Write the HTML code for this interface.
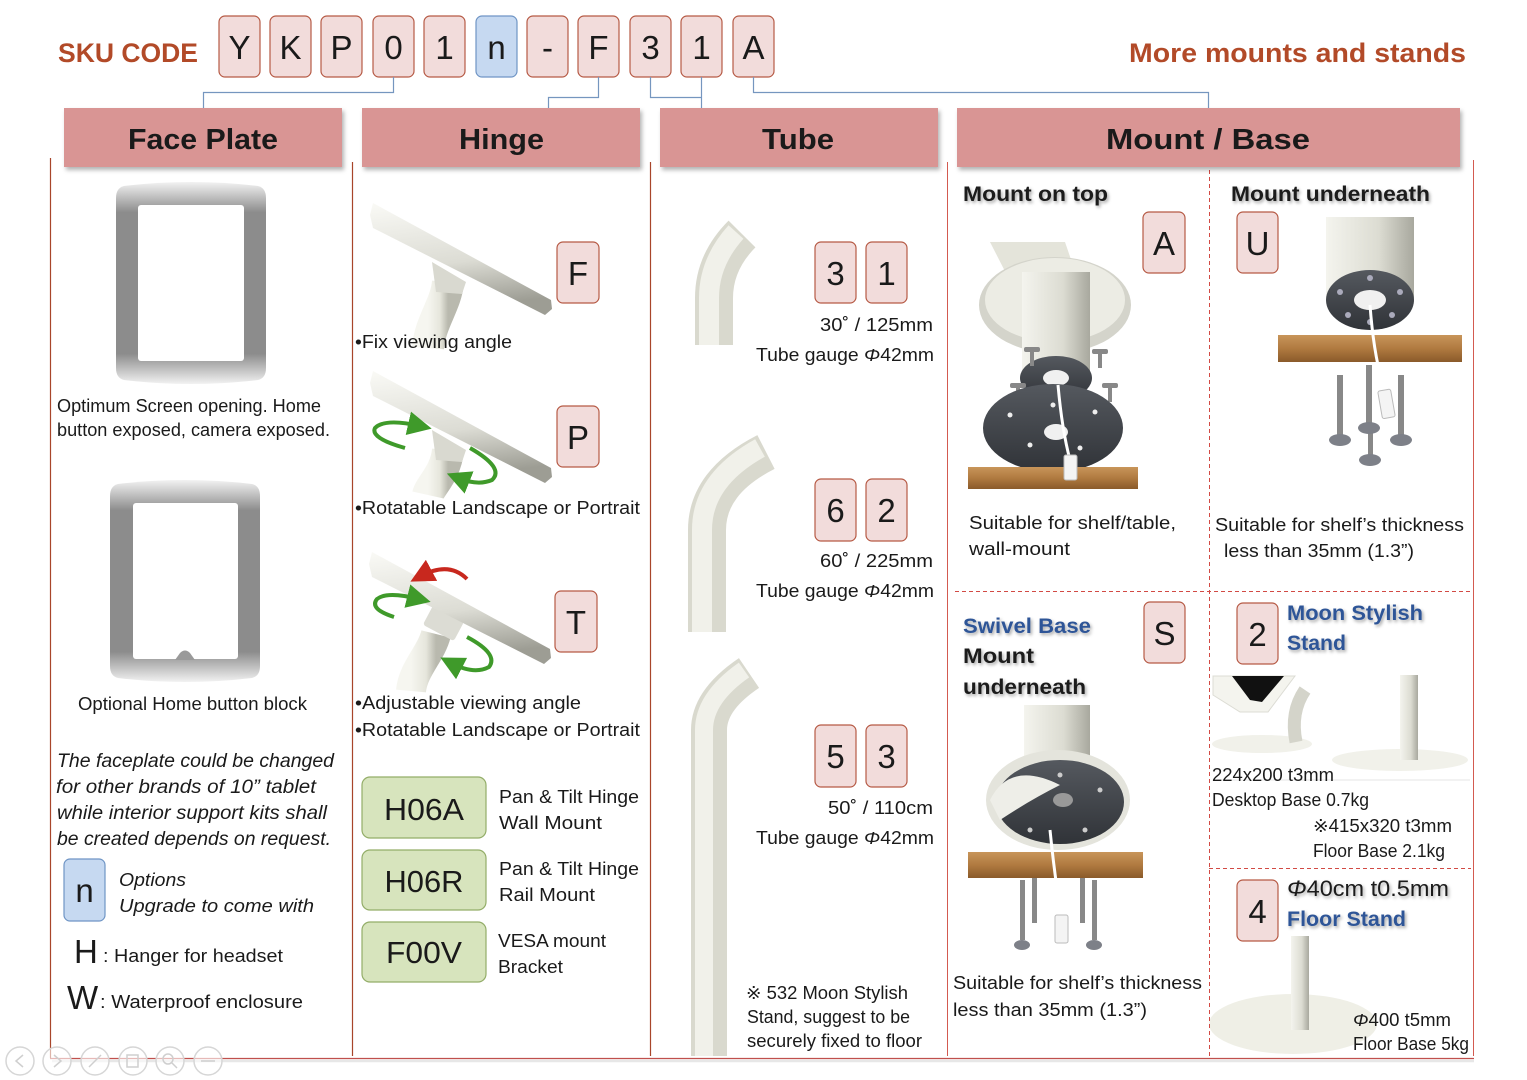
<!DOCTYPE html>
<html><head><meta charset="utf-8"><style>
html,body{margin:0;padding:0;background:#fff;}
svg{display:block;}
text{font-family:"Liberation Sans",sans-serif;fill:#1a1a1a;}
.b{font-weight:bold;}
.i{font-style:italic;}
</style></head><body>
<svg width="1527" height="1080" viewBox="0 0 1527 1080" xmlns="http://www.w3.org/2000/svg">
<defs>
<filter id="sh" x="-5%" y="-10%" width="112%" height="140%"><feDropShadow dx="2" dy="3" stdDeviation="2" flood-color="#000" flood-opacity="0.3"/></filter>
<filter id="ts" x="-5%" y="-20%" width="115%" height="160%"><feDropShadow dx="1.5" dy="2" stdDeviation="1.5" flood-color="#000" flood-opacity="0.35"/></filter>
<linearGradient id="fp" x1="0" y1="0" x2="0" y2="1"><stop offset="0" stop-color="#f2f2f2"/><stop offset="0.15" stop-color="#8c8c8c"/><stop offset="0.85" stop-color="#8c8c8c"/><stop offset="1" stop-color="#f2f2f2"/></linearGradient>
<linearGradient id="plate" x1="0" y1="0" x2="0.2" y2="1"><stop offset="0" stop-color="#fafaf6"/><stop offset="0.6" stop-color="#dcdcd4"/><stop offset="1" stop-color="#9d9d94"/></linearGradient>
<linearGradient id="tub" x1="0" y1="0" x2="1" y2="0"><stop offset="0" stop-color="#f6f6f0"/><stop offset="0.6" stop-color="#e6e6dc"/><stop offset="1" stop-color="#b9b9ae"/></linearGradient>
<linearGradient id="wood" x1="0" y1="0" x2="0" y2="1"><stop offset="0" stop-color="#c8955a"/><stop offset="0.5" stop-color="#b07a40"/><stop offset="1" stop-color="#8a5a2a"/></linearGradient>
<linearGradient id="pole" x1="0" y1="0" x2="1" y2="0"><stop offset="0" stop-color="#f4f4ee"/><stop offset="0.6" stop-color="#dcdcd2"/><stop offset="1" stop-color="#a8a89e"/></linearGradient>
<linearGradient id="dk" x1="0" y1="0" x2="0" y2="1"><stop offset="0" stop-color="#55595f"/><stop offset="1" stop-color="#303338"/></linearGradient>
<marker id="ag" markerWidth="6" markerHeight="6" refX="3" refY="3" orient="auto"><path d="M0,0 L6,3 L0,6 z" fill="#3f9a2a"/></marker>
<marker id="ar" markerWidth="6" markerHeight="6" refX="3" refY="3" orient="auto"><path d="M0,0 L6,3 L0,6 z" fill="#c8281e"/></marker>
</defs>

<!-- ===== Mount column images (drawn first, under text) ===== -->
<!-- Mount on top image -->
<polygon points="990,242 1065,242 1078,280 1012,285" fill="#e4e4da"/>
<ellipse cx="1055" cy="305" rx="76" ry="48" fill="#d4d4cb"/>
<ellipse cx="1055" cy="300" rx="70" ry="42" fill="#ecece4"/>
<rect x="1022" y="272" width="68" height="110" fill="url(#pole)"/>
<ellipse cx="1056" cy="378" rx="36" ry="22" fill="url(#dk)"/>
<ellipse cx="1056" cy="378" rx="13" ry="8" fill="#f0f0f0"/>
<g fill="#888"><rect x="1030" y="350" width="4" height="16"/><rect x="1024" y="347" width="16" height="5" rx="2"/><rect x="1098" y="352" width="4" height="16"/><rect x="1092" y="349" width="16" height="5" rx="2"/><rect x="1016" y="386" width="4" height="16"/><rect x="1010" y="383" width="16" height="5" rx="2"/><rect x="1108" y="386" width="4" height="16"/><rect x="1102" y="383" width="16" height="5" rx="2"/></g>
<ellipse cx="1053" cy="428" rx="70" ry="44" fill="url(#dk)"/>
<ellipse cx="1056" cy="432" rx="12" ry="8" fill="#f0f0f0"/>
<g fill="#eee"><circle cx="1010" cy="415" r="2.5"/><circle cx="1095" cy="412" r="2.5"/><circle cx="1030" cy="445" r="2.5"/><circle cx="1080" cy="448" r="2.5"/><circle cx="1053" cy="405" r="2.5"/></g>
<rect x="968" y="467" width="170" height="22" fill="url(#wood)"/>
<path d="M1058 385 Q1062 430 1070 460" stroke="#fff" stroke-width="3" fill="none"/>
<rect x="1064" y="455" width="13" height="25" rx="2" fill="#f4f4f4" stroke="#bbb"/>

<!-- Mount underneath image -->
<rect x="1326" y="217" width="88" height="85" fill="url(#pole)"/>
<ellipse cx="1370" cy="300" rx="44" ry="30" fill="url(#dk)"/>
<ellipse cx="1370" cy="300" rx="16" ry="10" fill="#f0f0f0"/>
<g fill="#aab"><circle cx="1340" cy="292" r="3"/><circle cx="1400" cy="292" r="3"/><circle cx="1348" cy="315" r="3"/><circle cx="1392" cy="315" r="3"/><circle cx="1370" cy="278" r="3"/><circle cx="1370" cy="322" r="3"/></g>
<rect x="1278" y="335" width="184" height="27" fill="url(#wood)"/>
<g fill="#888"><rect x="1337" y="375" width="6" height="62"/><rect x="1366" y="365" width="6" height="60"/><rect x="1398" y="375" width="6" height="62"/><rect x="1368" y="430" width="5" height="25"/></g>
<g fill="#7d8088"><ellipse cx="1340" cy="440" rx="11" ry="6"/><ellipse cx="1369" cy="428" rx="11" ry="6"/><ellipse cx="1401" cy="440" rx="11" ry="6"/><ellipse cx="1370" cy="460" rx="11" ry="6"/></g>
<path d="M1370 305 Q1374 360 1386 395" stroke="#fff" stroke-width="3" fill="none"/>
<rect x="1380" y="390" width="13" height="28" rx="2" fill="#f4f4f4" stroke="#bbb" transform="rotate(-10 1386 404)"/>

<!-- Swivel image -->
<rect x="1024" y="705" width="66" height="85" fill="url(#pole)"/>
<ellipse cx="1058" cy="800" rx="72" ry="50" fill="#e4e4dc"/>
<ellipse cx="1060" cy="802" rx="64" ry="42" fill="url(#dk)"/>
<path d="M990 800 Q1010 760 1060 785 Q1030 800 1000 820 Z" fill="#eeeee8"/>
<ellipse cx="1063" cy="800" rx="10" ry="7" fill="#999"/>
<g fill="#ccc"><circle cx="1030" cy="830" r="2.5"/><circle cx="1100" cy="790" r="2.5"/><circle cx="1085" cy="830" r="2.5"/><circle cx="1060" cy="775" r="2.5"/></g>
<rect x="968" y="852" width="175" height="26" fill="url(#wood)"/>
<g fill="#888"><rect x="1020" y="880" width="5" height="60"/><rect x="1032" y="878" width="5" height="45"/><rect x="1080" y="878" width="5" height="45"/><rect x="1092" y="880" width="5" height="60"/></g>
<g fill="#7d8088"><ellipse cx="1022" cy="945" rx="8" ry="5"/><ellipse cx="1094" cy="945" rx="8" ry="5"/></g>
<path d="M1050 830 Q1055 880 1062 920" stroke="#fff" stroke-width="3" fill="none"/>
<rect x="1055" y="915" width="13" height="28" rx="2" fill="#f4f4f4" stroke="#bbb"/>

<!-- Moon stylish images -->
<polygon points="1213,676 1295,676 1268,712 1240,712 1213,695" fill="#f4f4ee" stroke="#dcdcd4"/>
<polygon points="1232,676 1284,676 1262,702 1250,700" fill="#111"/>
<ellipse cx="1262" cy="744" rx="50" ry="9" fill="#f1f1ea"/>
<path d="M1305 690 Q1290 712 1296 742" stroke="#d4d4ca" stroke-width="13" fill="none"/>
<ellipse cx="1400" cy="760" rx="68" ry="11" fill="#f1f1ea"/>
<rect x="1400" y="675" width="18" height="85" fill="url(#pole)"/>
<path d="M1213 780 H1470" stroke="#e6e6e6" stroke-width="1"/>

<!-- Floor stand -->
<ellipse cx="1293" cy="1024" rx="84" ry="30" fill="#efefe6"/>
<rect x="1291" y="936" width="18" height="94" fill="url(#pole)"/>

<!-- Title texts -->
<text x="58" y="62" font-size="27" class="b" style="fill:#b24a28" textLength="140" lengthAdjust="spacingAndGlyphs">SKU CODE</text>
<text x="1129" y="62" font-size="27" class="b" style="fill:#b24a28" textLength="337" lengthAdjust="spacingAndGlyphs">More mounts and stands</text>

<!-- SKU boxes -->
<g stroke="#b65a45" stroke-width="1.2" fill="#f2dcdb">
<rect x="219" y="16" width="41" height="61" rx="6"/>
<rect x="270" y="16" width="41" height="61" rx="6"/>
<rect x="321" y="16" width="41" height="61" rx="6"/>
<rect x="373" y="16" width="41" height="61" rx="6"/>
<rect x="424" y="16" width="41" height="61" rx="6"/>
<rect x="476" y="16" width="41" height="61" rx="6" fill="#c6d9f1" stroke="#6f95c5"/>
<rect x="527" y="16" width="41" height="61" rx="6"/>
<rect x="578" y="16" width="41" height="61" rx="6"/>
<rect x="630" y="16" width="41" height="61" rx="6"/>
<rect x="681" y="16" width="41" height="61" rx="6"/>
<rect x="733" y="16" width="41" height="61" rx="6"/>
</g>
<g font-size="33" text-anchor="middle">
<text x="239.5" y="59">Y</text><text x="290.5" y="59">K</text><text x="341.5" y="59">P</text><text x="393.5" y="59">0</text><text x="444.5" y="59">1</text><text x="496.5" y="59">n</text><text x="547.5" y="59">-</text><text x="598.5" y="59">F</text><text x="650.5" y="59">3</text><text x="701.5" y="59">1</text><text x="753.5" y="59">A</text>
</g>

<!-- connectors -->
<g stroke="#7596bf" stroke-width="1.2" fill="none">
<path d="M393.5 77 V92.5 H203.5 V108"/>
<path d="M598.5 77 V97.5 H548.5 V108"/>
<path d="M650.5 77 V97.5 H701.5"/>
<path d="M701.5 77 V108"/>
<path d="M753.5 77 V92.5 H1208.5 V108"/>
</g>

<!-- column lines -->
<g stroke="#a8452a" stroke-width="1.2" fill="none">
<path d="M50.5 158 V1058"/>
<path d="M352.5 162 V1056"/>
<path d="M650.5 162 V1056"/>
</g>
<g stroke="#d35a50" stroke-width="1" fill="none">
<path d="M947.5 162 V1056"/>
<path d="M1473.5 160 V1056"/>
</g>
<path d="M50 1058.5 H1474" stroke="#c0504d" stroke-width="1.2"/>
<path d="M52 1061 H1474" stroke="#d8d8d8" stroke-width="2.5" opacity="0.6"/>
<g stroke="#d24a44" stroke-width="1" stroke-dasharray="4,3" fill="none">
<path d="M1209.5 170 V1056"/>
<path d="M955 591.5 H1471"/>
<path d="M1209 868.5 H1471"/>
</g>

<!-- headers -->
<g fill="#d99594" filter="url(#sh)">
<rect x="64" y="108" width="278" height="59"/>
<rect x="362" y="108" width="278" height="59"/>
<rect x="660" y="108" width="278" height="59"/>
<rect x="957" y="108" width="503" height="59"/>
</g>
<g font-size="29" class="b">
<text x="128" y="149" textLength="150" lengthAdjust="spacingAndGlyphs">Face Plate</text>
<text x="459" y="149" textLength="85" lengthAdjust="spacingAndGlyphs">Hinge</text>
<text x="762" y="149" textLength="72" lengthAdjust="spacingAndGlyphs">Tube</text>
<text x="1106" y="149" textLength="204" lengthAdjust="spacingAndGlyphs">Mount / Base</text>
</g>

<!-- Face plate drawings -->
<path d="M124 186 Q191 178 258 186 Q266 188 266 198 V368 Q266 378 258 380 Q191 388 124 380 Q116 378 116 368 V198 Q116 188 124 186 Z" fill="url(#fp)"/>
<rect x="138" y="205" width="106" height="156" rx="3" fill="#fff"/>
<path d="M118 484 Q185 476 252 484 Q260 486 260 496 V666 Q260 676 252 678 Q185 686 118 678 Q110 676 110 666 V496 Q110 486 118 484 Z" fill="url(#fp)"/>
<rect x="133" y="503" width="105" height="156" rx="3" fill="#fff"/>
<path d="M175 660 L180 653 Q185 648 190 653 L195 660 Z" fill="#9a9a9a"/>

<g font-size="18">
<text x="57" y="412" textLength="264" lengthAdjust="spacingAndGlyphs">Optimum Screen opening. Home</text>
<text x="57" y="436" textLength="273" lengthAdjust="spacingAndGlyphs">button exposed, camera exposed.</text>
<text x="78" y="710" textLength="229" lengthAdjust="spacingAndGlyphs">Optional Home button block</text>
</g>
<g font-size="19" class="i">
<text x="57" y="767" textLength="277" lengthAdjust="spacingAndGlyphs">The faceplate could be changed</text>
<text x="56" y="793" textLength="260" lengthAdjust="spacingAndGlyphs">for other brands of 10” tablet</text>
<text x="57" y="819" textLength="270" lengthAdjust="spacingAndGlyphs">while interior support kits shall</text>
<text x="57" y="845" textLength="274" lengthAdjust="spacingAndGlyphs">be created depends on request.</text>
</g>
<rect x="64" y="859" width="41" height="62" rx="6" fill="#c6d9f1" stroke="#6f95c5" stroke-width="1.2"/>
<text x="84.5" y="902" font-size="33" text-anchor="middle">n</text>
<g font-size="18" class="i">
<text x="119" y="886" textLength="67" lengthAdjust="spacingAndGlyphs">Options</text>
<text x="119" y="912" textLength="195" lengthAdjust="spacingAndGlyphs">Upgrade to come with</text>
</g>
<text x="74" y="963" font-size="33">H</text>
<text x="103" y="962" font-size="18" textLength="180" lengthAdjust="spacingAndGlyphs">: Hanger for headset</text>
<text x="67" y="1009" font-size="33">W</text>
<text x="100" y="1008" font-size="18" textLength="203" lengthAdjust="spacingAndGlyphs">: Waterproof enclosure</text>

<!-- nav icons -->
<g stroke="#d6d6d6" stroke-width="1.5" fill="#fff" fill-opacity="0.6">
<circle cx="20" cy="1061" r="14"/><circle cx="57" cy="1061" r="14"/><circle cx="95" cy="1061" r="14"/><circle cx="133" cy="1061" r="14"/><circle cx="170" cy="1061" r="14"/><circle cx="208" cy="1061" r="14"/>
</g>
<g stroke="#cfcfcf" stroke-width="1.5" fill="none">
<path d="M23 1055 L16 1061 L23 1067"/><path d="M54 1055 L61 1061 L54 1067"/><path d="M89 1067 L101 1055"/><rect x="127" y="1055" width="11" height="12"/><circle cx="168" cy="1059" r="5"/><path d="M172 1063 L177 1068"/><path d="M201 1061 H215"/>
</g>

<!-- Hinge drawings -->
<g>
<path d="M448 282 C446 305 430 322 428 348" stroke="url(#tub)" stroke-width="32" fill="none"/>
<polygon points="432,262 466,282 462,294 436,292" fill="#d9d9d0"/>
<polygon points="373,203 551,300 552,309 545,315 373,228 370,215" fill="url(#plate)"/>
</g>
<g transform="translate(0,168)">
<path d="M448 282 C446 305 430 318 428 327" stroke="url(#tub)" stroke-width="32" fill="none"/>
<polygon points="432,262 466,282 462,294 436,292" fill="#d9d9d0"/>
<polygon points="373,203 551,300 552,309 545,315 373,228 370,215" fill="url(#plate)"/>
<path d="M405 280 Q370 270 375 260 Q385 250 420 258" stroke="#3f9a2a" stroke-width="4" fill="none" marker-end="url(#ag)"/>
<path d="M470 280 Q505 300 492 312 Q478 318 458 310" stroke="#3f9a2a" stroke-width="4" fill="none" marker-end="url(#ag)"/>
</g>
<g transform="translate(-1,349)">
<path d="M437 285 C432 305 414 320 412 342" stroke="url(#tub)" stroke-width="30" fill="none"/>
<rect x="427" y="263" width="35" height="22" rx="3" fill="#dcdcd4" transform="rotate(28 444 274)"/>
<polygon points="373,203 551,300 552,309 545,315 373,228 370,215" fill="url(#plate)"/>
<path d="M468 230 Q450 212 422 227" stroke="#c8281e" stroke-width="4" fill="none" marker-end="url(#ar)"/>
<path d="M395 268 Q370 260 378 250 Q388 242 420 250" stroke="#3f9a2a" stroke-width="4" fill="none" marker-end="url(#ag)"/>
<path d="M468 288 Q500 305 490 318 Q475 326 452 314" stroke="#3f9a2a" stroke-width="4" fill="none" marker-end="url(#ag)"/>
</g>

<!-- Hinge boxes -->
<g stroke="#b65a45" stroke-width="1.2" fill="#f2dcdb">
<rect x="557" y="242" width="42" height="61" rx="6"/>
<rect x="557" y="406" width="42" height="61" rx="6"/>
<rect x="555" y="591" width="42" height="61" rx="6"/>
</g>
<g font-size="33" text-anchor="middle">
<text x="578" y="285">F</text><text x="578" y="449">P</text><text x="576" y="634">T</text>
</g>
<g font-size="18">
<text x="355" y="348" textLength="157" lengthAdjust="spacingAndGlyphs">•Fix viewing angle</text>
<text x="355" y="514" textLength="285" lengthAdjust="spacingAndGlyphs">•Rotatable Landscape or Portrait</text>
<text x="355" y="709" textLength="226" lengthAdjust="spacingAndGlyphs">•Adjustable viewing angle</text>
<text x="355" y="736" textLength="285" lengthAdjust="spacingAndGlyphs">•Rotatable Landscape or Portrait</text>
</g>
<g fill="#d7e4bd" stroke="#93ad68" stroke-width="1.2">
<rect x="362" y="777" width="124" height="61" rx="8"/>
<rect x="362" y="850" width="124" height="60" rx="8"/>
<rect x="362" y="922" width="124" height="60" rx="8"/>
</g>
<g font-size="31" text-anchor="middle">
<text x="424" y="820" textLength="80" lengthAdjust="spacingAndGlyphs">H06A</text>
<text x="424" y="892" textLength="79" lengthAdjust="spacingAndGlyphs">H06R</text>
<text x="424" y="963" textLength="76" lengthAdjust="spacingAndGlyphs">F00V</text>
</g>
<g font-size="18">
<text x="499" y="803" textLength="140" lengthAdjust="spacingAndGlyphs">Pan &amp; Tilt Hinge</text>
<text x="499" y="829" textLength="103" lengthAdjust="spacingAndGlyphs">Wall Mount</text>
<text x="499" y="875" textLength="140" lengthAdjust="spacingAndGlyphs">Pan &amp; Tilt Hinge</text>
<text x="499" y="901" textLength="96" lengthAdjust="spacingAndGlyphs">Rail Mount</text>
<text x="498" y="947" textLength="108" lengthAdjust="spacingAndGlyphs">VESA mount</text>
<text x="498" y="973" textLength="65" lengthAdjust="spacingAndGlyphs">Bracket</text>
</g>

<!-- Tubes -->
<g fill="none" stroke-linecap="butt">
<path d="M714 345 L714 298 Q714 262 742 234" stroke="#d9d9ce" stroke-width="38"/>
<path d="M709 345 L709 298 Q709 262 736 232" stroke="#f1f1ea" stroke-width="20"/>
<path d="M707 632 L707 530 Q707 482 766 452" stroke="#d9d9ce" stroke-width="38"/>
<path d="M702 632 L702 530 Q702 480 760 448" stroke="#f1f1ea" stroke-width="20"/>
<path d="M709 1056 L709 730 Q709 700 749 673" stroke="#d9d9ce" stroke-width="36"/>
<path d="M704 1056 L704 730 Q704 698 744 670" stroke="#f1f1ea" stroke-width="18"/>
</g>
<g stroke="#b65a45" stroke-width="1.2" fill="#f2dcdb">
<rect x="815" y="242" width="41" height="61" rx="6"/><rect x="866" y="242" width="41" height="61" rx="6"/>
<rect x="815" y="479" width="41" height="62" rx="6"/><rect x="866" y="479" width="41" height="62" rx="6"/>
<rect x="815" y="725" width="41" height="62" rx="6"/><rect x="866" y="725" width="41" height="62" rx="6"/>
</g>
<g font-size="33" text-anchor="middle">
<text x="835.5" y="285">3</text><text x="886.5" y="285">1</text>
<text x="835.5" y="522">6</text><text x="886.5" y="522">2</text>
<text x="835.5" y="768">5</text><text x="886.5" y="768">3</text>
</g>
<g font-size="18">
<text x="820" y="331" textLength="113" lengthAdjust="spacingAndGlyphs">30˚ / 125mm</text>
<text x="756" y="361" textLength="178" lengthAdjust="spacingAndGlyphs">Tube gauge <tspan class="i">Φ</tspan>42mm</text>
<text x="820" y="567" textLength="113" lengthAdjust="spacingAndGlyphs">60˚ / 225mm</text>
<text x="756" y="597" textLength="178" lengthAdjust="spacingAndGlyphs">Tube gauge <tspan class="i">Φ</tspan>42mm</text>
<text x="828" y="814" textLength="105" lengthAdjust="spacingAndGlyphs">50˚ / 110cm</text>
<text x="756" y="844" textLength="178" lengthAdjust="spacingAndGlyphs">Tube gauge <tspan class="i">Φ</tspan>42mm</text>
<text x="746" y="999" textLength="162" lengthAdjust="spacingAndGlyphs">※ 532 Moon Stylish</text>
<text x="747" y="1023" textLength="163" lengthAdjust="spacingAndGlyphs">Stand, suggest to be</text>
<text x="747" y="1047" textLength="175" lengthAdjust="spacingAndGlyphs">securely fixed to floor</text>
</g>

<!-- Mount column: labels -->
<g font-size="21" class="b" filter="url(#ts)">
<text x="963" y="201" textLength="145" lengthAdjust="spacingAndGlyphs">Mount on top</text>
<text x="1231" y="201" textLength="199" lengthAdjust="spacingAndGlyphs">Mount underneath</text>
<text x="963" y="633" textLength="128" lengthAdjust="spacingAndGlyphs" style="fill:#2f5597">Swivel  Base</text>
<text x="963" y="663" textLength="71" lengthAdjust="spacingAndGlyphs">Mount</text>
<text x="963" y="694" textLength="123" lengthAdjust="spacingAndGlyphs">underneath</text>
<text x="1287" y="620" textLength="136" lengthAdjust="spacingAndGlyphs" style="fill:#2f5597">Moon Stylish</text>
<text x="1287" y="650" textLength="59" lengthAdjust="spacingAndGlyphs" style="fill:#2f5597">Stand</text>
<text x="1287" y="926" textLength="119" lengthAdjust="spacingAndGlyphs" style="fill:#2f5597">Floor Stand</text>
</g>
<text x="1287" y="896" font-size="22" textLength="162" lengthAdjust="spacingAndGlyphs" filter="url(#ts)"><tspan class="i">Φ</tspan>40cm t0.5mm</text>

<g stroke="#b65a45" stroke-width="1.2" fill="#f2dcdb">
<rect x="1143" y="212" width="42" height="61" rx="6"/>
<rect x="1237" y="212" width="41" height="61" rx="6"/>
<rect x="1144" y="602" width="41" height="61" rx="6"/>
<rect x="1237" y="603" width="41" height="61" rx="6"/>
<rect x="1237" y="880" width="41" height="61" rx="6"/>
</g>
<g font-size="33" text-anchor="middle">
<text x="1164" y="255">A</text><text x="1257.5" y="255">U</text><text x="1164.5" y="645">S</text><text x="1257.5" y="646">2</text><text x="1257.5" y="923">4</text>
</g>

<g font-size="18">
<text x="969" y="529" textLength="207" lengthAdjust="spacingAndGlyphs">Suitable for shelf/table,</text>
<text x="969" y="555" textLength="101" lengthAdjust="spacingAndGlyphs">wall-mount</text>
<text x="1215" y="531" textLength="249" lengthAdjust="spacingAndGlyphs">Suitable for shelf’s thickness</text>
<text x="1224" y="557" textLength="190" lengthAdjust="spacingAndGlyphs">less than 35mm (1.3”)</text>
<text x="953" y="989" textLength="249" lengthAdjust="spacingAndGlyphs">Suitable for shelf’s thickness</text>
<text x="953" y="1016" textLength="194" lengthAdjust="spacingAndGlyphs">less than 35mm (1.3”)</text>
<text x="1212" y="781" textLength="122" lengthAdjust="spacingAndGlyphs">224x200 t3mm</text>
<text x="1212" y="806" textLength="157" lengthAdjust="spacingAndGlyphs">Desktop Base 0.7kg</text>
<text x="1313" y="832" textLength="139" lengthAdjust="spacingAndGlyphs">※415x320 t3mm</text>
<text x="1313" y="857" textLength="132" lengthAdjust="spacingAndGlyphs">Floor Base 2.1kg</text>
<text x="1353" y="1026" textLength="98" lengthAdjust="spacingAndGlyphs"><tspan class="i">Φ</tspan>400 t5mm</text>
<text x="1353" y="1050" textLength="116" lengthAdjust="spacingAndGlyphs">Floor Base 5kg</text>
</g>
</svg>
</body></html>
